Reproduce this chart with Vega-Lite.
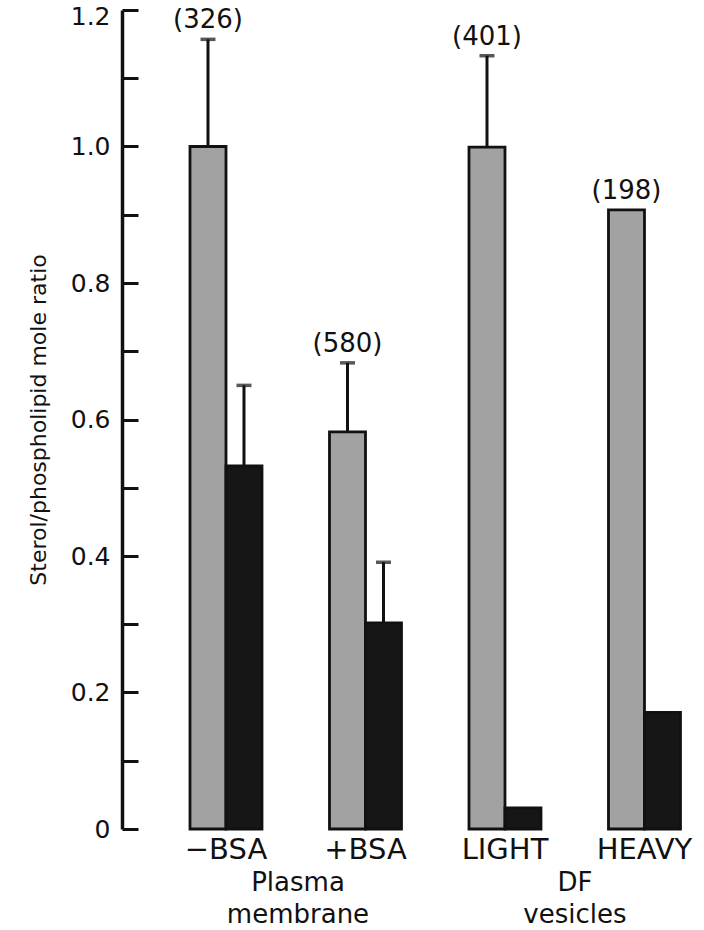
{
  "$schema": "https://vega.github.io/schema/vega-lite/v6.json",
  "width": 582,
  "height": 819,
  "autosize": {"type": "none"},
  "padding": {"left": 122, "top": 10, "right": 0, "bottom": 101},
  "background": "white",
  "config": {"font": "DejaVu Sans", "view": {"stroke": null}},
  "datasets": {
    "bars": [
      {"cat": "−BSA", "series": "stippled", "value": 1.0, "upper": 1.157, "n": "(326)"},
      {"cat": "−BSA", "series": "solid", "value": 0.532, "upper": 0.650},
      {"cat": "+BSA", "series": "stippled", "value": 0.582, "upper": 0.683, "n": "(580)"},
      {"cat": "+BSA", "series": "solid", "value": 0.302, "upper": 0.391},
      {"cat": "LIGHT", "series": "stippled", "value": 0.999, "upper": 1.133, "n": "(401)"},
      {"cat": "LIGHT", "series": "solid", "value": 0.031},
      {"cat": "HEAVY", "series": "stippled", "value": 0.907, "n": "(198)"},
      {"cat": "HEAVY", "series": "solid", "value": 0.171}
    ],
    "groups": [
      {"group": "Plasma membrane"},
      {"group": "DF vesicles"}
    ]
  },
  "resolve": {"scale": {"x": "independent"}, "axis": {"x": "independent"}},
  "layer": [
    {
      "data": {"name": "bars"},
      "encoding": {
        "x": {
          "field": "cat", "type": "nominal", "sort": null,
          "scale": {"type": "band", "domain": ["−BSA", "+BSA", "LIGHT", "HEAVY"], "paddingInner": 0.4839, "paddingOuter": 0.328, "align": 0.743},
          "axis": {"title": null, "domain": false, "ticks": false, "labelAngle": 0, "labelPadding": 6, "labelFontSize": 29, "labelColor": "#111"}
        },
        "xOffset": {"field": "series", "type": "nominal", "sort": ["stippled", "solid"], "scale": {"domain": ["stippled", "solid"], "paddingInner": 0, "paddingOuter": 0}}
      },
      "layer": [
        {
          "mark": {"type": "bar", "stroke": "#111", "strokeWidth": 2.8},
          "encoding": {
            "y": {
              "field": "value", "type": "quantitative",
              "scale": {"domain": [0, 1.2], "nice": false},
              "axis": {
                "title": "Sterol/phospholipid mole ratio",
                "values": [0, 0.1, 0.2, 0.3, 0.4, 0.5, 0.6, 0.7, 0.8, 0.9, 1.0, 1.1, 1.2],
                "labelExpr": "datum.value == 0 ? '0' : (round(datum.value * 10) % 2 == 0 ? format(datum.value, '.1f') : '')",
                "grid": false,
                "tickSize": -16, "tickWidth": 3, "tickColor": "#111",
                "domainColor": "#111", "domainWidth": 3.5,
                "labelPadding": 28, "labelFontSize": 25, "labelColor": "#111", "labelOverlap": false, "labelFlush": false,
                "labelOffset": {"condition": {"test": "datum.value > 1.15", "value": 6}, "value": 0},
                "titleFontSize": 22, "titleFontWeight": "normal", "titleColor": "#111", "titlePadding": 20
              }
            },
            "color": {
              "field": "series", "type": "nominal",
              "scale": {"domain": ["stippled", "solid"], "range": ["#a2a2a2", "#161616"]},
              "legend": null
            }
          }
        },
        {
          "transform": [{"filter": "isValid(datum.upper)"}],
          "mark": {"type": "rule", "color": "#111", "strokeWidth": 3},
          "encoding": {
            "y": {"field": "value", "type": "quantitative", "title": "Sterol/phospholipid mole ratio"},
            "y2": {"field": "upper"}
          }
        },
        {
          "transform": [{"filter": "isValid(datum.upper)"}],
          "mark": {"type": "tick", "color": "#111", "thickness": 3.5, "size": 15},
          "encoding": {
            "y": {"field": "upper", "type": "quantitative", "title": "Sterol/phospholipid mole ratio"}
          }
        },
        {
          "transform": [
            {"filter": "isValid(datum.n)"},
            {"calculate": "isValid(datum.upper) ? datum.upper : datum.value", "as": "top"}
          ],
          "mark": {"type": "text", "fontSize": 26, "baseline": "alphabetic", "dy": -11, "color": "#111"},
          "encoding": {
            "y": {"field": "top", "type": "quantitative", "title": "Sterol/phospholipid mole ratio"},
            "text": {"field": "n"}
          }
        }
      ]
    },
    {
      "data": {"name": "groups"},
      "mark": {"type": "text"},
      "encoding": {
        "x": {
          "field": "group", "type": "nominal", "sort": null,
          "scale": {"type": "band", "domain": ["Plasma membrane", "DF vesicles"], "paddingInner": 0.5, "paddingOuter": 0.3006, "align": 0.641},
          "axis": {"orient": "bottom", "title": null, "domain": false, "ticks": false, "labelAngle": 0, "labelPadding": 40, "labelFontSize": 26, "labelLineHeight": 32, "labelColor": "#111", "labelExpr": "split(datum.label, ' ')"}
        },
        "text": {"value": ""}
      }
    }
  ]
}
